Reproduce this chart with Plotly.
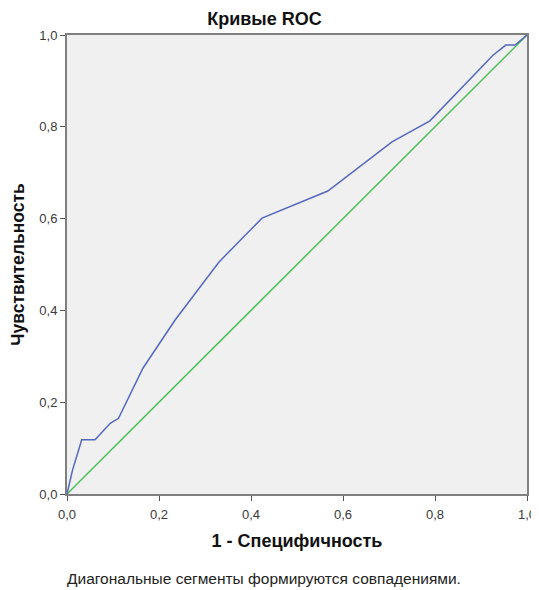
import plotly.graph_objects as go

# ROC curve data (1 - specificity, sensitivity)
fpr = [0.0, 0.0065, 0.012, 0.032, 0.061, 0.094, 0.112, 0.165, 0.235, 0.330, 0.424,
       0.567, 0.7065, 0.789, 0.926, 0.954, 0.974, 1.0]
tpr = [0.0, 0.030, 0.052, 0.118, 0.118, 0.154, 0.165, 0.274, 0.379, 0.505, 0.601,
       0.660, 0.767, 0.813, 0.956, 0.978, 0.978, 1.0]
ref_x = [0.0, 1.0]
ref_y = [0.0, 1.0]
tick_vals = [0.0, 0.2, 0.4, 0.6, 0.8, 1.0]

font_family = "Liberation Sans, Arial, sans-serif"

# page body has an 8px margin, so the figure is sized to fit inside it
W, H = 531, 582

fig = go.Figure()
fig.add_trace(go.Scatter(x=ref_x, y=ref_y, mode="lines",
                         line=dict(color="#4cbf58", width=1.5), showlegend=False,
                         hoverinfo="skip"))
fig.add_trace(go.Scatter(x=fpr, y=tpr, mode="lines",
                         line=dict(color="#5468c0", width=1.5), showlegend=False))

axis_common = dict(
    range=[0, 1], tickvals=tick_vals, tickformat=".1f", automargin=False,
    showgrid=False, zeroline=False, showline=True, linecolor="#808080",
    linewidth=2, mirror=True, ticks="outside", ticklen=5, tickcolor="#555555",
    tickwidth=1, tickfont=dict(family=font_family, size=13, color="#3a3a3a"),
)

fig.update_layout(
    width=W, height=H,
    margin=dict(l=59, r=12, t=27, b=96),
    paper_bgcolor="white", plot_bgcolor="#f0f0f0",
    separators=", ",
    font=dict(family=font_family, color="#111111"),
    title=dict(text="<b>Кривые ROC</b>", x=256.5 / W, xanchor="center",
               y=1 - 11 / H, yanchor="middle",
               font=dict(family=font_family, size=18, color="#111111")),
    xaxis=dict(axis_common, ticklabelstandoff=2,
               title=dict(text="<b>1 - Специфичность</b>", standoff=14,
                          font=dict(family=font_family, size=18, color="#111111"))),
    yaxis=dict(axis_common,
               title=dict(text="<b>Чувствительность</b>", standoff=10,
                          font=dict(family=font_family, size=17.5, color="#111111"))),
    annotations=[dict(text="Диагональные сегменты формируются совпадениями.",
                      xref="paper", yref="paper", x=-2 / 460, xanchor="left",
                      y=-84 / 459, yanchor="middle", showarrow=False,
                      font=dict(family=font_family, size=15.5, color="#222222"))],
)

fig.write_html("out.html")
